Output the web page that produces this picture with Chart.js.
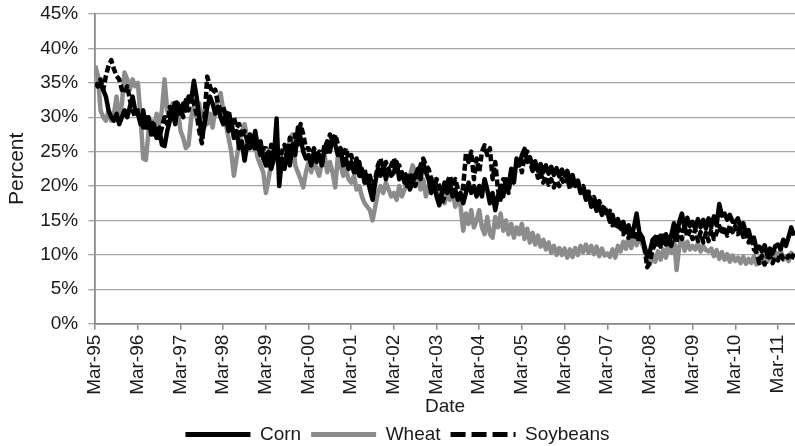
<!DOCTYPE html>
<html>
<head>
<meta charset="utf-8">
<style>
html,body{margin:0;padding:0;background:#fff;}
#wrap{width:795px;height:446px;position:relative;}
</style>
<script src="https://cdn.jsdelivr.net/npm/chart.js@4"></script>
</head>
<body>
<div id="wrap"><canvas id="c"></canvas></div>
<script>
// Tick labels of the date axis (one per year, at March)
const tickLabels = ['Mar-95','Mar-96','Mar-97','Mar-98','Mar-99','Mar-00','Mar-01','Mar-02','Mar-03','Mar-04','Mar-05','Mar-06','Mar-07','Mar-08','Mar-09','Mar-10','Mar-11'];
// Readings taken ~16 times per year starting Mar-95
const readingsPerYear = 16;
const xMaxYears = 16.4;
const yTickValues = [0,5,10,15,20,25,30,35,40,45];

const corn = [
 35,34.5,35,34,33,31,30,29.5,30.5,29,30,31,30,31.5,33,31,
 30.5,29,31,28.5,30,27.5,29,27,28.5,26,25.8,28,29.5,31,29,32,
 30.5,32,31,33,32.5,35.3,33,30,27,29,31.5,33,32,30.5,31.5,30,
 29,30.5,28,29.5,27,28,25.5,26.5,23.7,26,27.5,26,28,25.5,26.5,24,
 23,25,22.5,24,29.8,20,24,22.5,25.5,23,26,24.5,28.5,27,25,24,
 24.5,23,25,23.5,24.5,23,25.5,26.5,25,27,26,24.5,25.5,23,24,22.5,
 23.5,22,24,21.5,22.5,20.5,21.5,19.5,18,20.5,22.5,21.5,23,21,22.5,21.5,
 22,23.5,21,22,20.5,21.5,19.5,20.5,21.5,22.5,21,23.5,22,21,19,20.5,
 18.5,17.2,19,20.5,19,20.5,18.5,19.5,18,19,17.5,19,20.5,19,20,18.5,
 20,18.5,21,19.5,17.5,19,16.5,18.5,20,18.5,21,20,22.5,20.5,24,23,
 24.5,25.4,23.5,24.2,22.8,23.6,22.2,23.2,22,23,21.8,22.8,21.6,22.6,21.4,22.4,
 21.5,22.2,20.8,21.6,20,20.8,19,19.6,18,18.8,17,17.8,16.4,17.2,15.8,16.6,
 16.2,14.8,15.8,14.3,15.2,13.8,14.8,13.3,14.3,12.8,14,16,13.3,12.6,11.2,9.8,
 10.5,12.2,12.6,11.5,12.8,11.8,13,11.6,12.8,14.6,12.8,14.8,16,13.8,15.4,14.2,
 14.8,13.8,15.2,14,15.1,13.8,15.3,14.1,15.6,14.3,17.4,15.7,16,15.1,15.8,14.8,
 14.8,15.3,13.8,14.6,13.2,13.6,12,12.5,10.8,11.2,10.5,11.4,10,10.9,10.2,11.3,
 11.5,10.8,12.2,11.3,12.6,14,12.8
];

const wheat = [
 37.5,36,31,30,29.5,31,29.5,30.5,33,29.5,32,36.5,35.5,34,35.5,34.5,
 35,30,24,23.8,28,29.5,28,30.5,29,31,35.5,31,30,32,29.5,31,
 28,27,25.5,26,30,31.5,30,32,29.5,31,29,30.5,28.5,31,32.5,33.5,
 31,29,27,25,21.5,24,26.5,28,29,27,25.5,27,26,24,23,22,
 19,21,23.5,25,24,22.5,24,23,24.5,27,27.5,23,22,21,19.8,22,
 23.5,22,24,22.5,21.5,23.5,24.5,22,23.5,22,19.8,24.5,23,21.5,22.5,21,
 20.5,21.5,19.5,20,18.5,17.5,17,16.5,15,17,19,20,19,20.5,19.5,18.5,
 19,18,20,18.5,19.5,20.5,21.5,23,22,21,19.5,21,18.5,20,19,21,
 20,18,19.5,17.5,19,18,19.5,17,18.5,17,13.5,16,14.5,16.5,14,15,
 16.5,14,13,15.5,13,12.5,15.5,14,16,13.5,15,13,14.5,12.5,14,13,
 14.5,12.3,13.8,11.8,13.2,11.5,12.8,11.2,12.2,10.8,11.8,10.3,11.3,10,11,10,
 10.9,9.6,10.8,9.7,11,10,11.3,10.4,11.5,10.3,11.3,10.1,11.2,9.8,10.9,9.9,
 10.2,9.7,10.8,9.6,11.3,10.5,11.9,10.9,12.6,11,12.8,11.4,13,11.6,10.8,9.6,
 8.6,10,9,10.5,9.3,10.8,9.6,11.8,10.3,12.7,7.8,11.3,12.2,10.6,11.9,10.8,
 11.3,10.8,11.7,10.5,11.3,10.7,10.5,10.9,9.8,10.7,9.4,10.4,9.3,10.1,9,9.9,
 9.1,9.6,8.8,9.7,8.7,9.4,8.8,9.8,8.6,9.6,8.9,9.9,9,10.1,9.2,10.4,
 9.6,10.7,9.3,9.8,9.1,10.3,9.6
];

const soybeans = [
 35,34.5,35.5,34,36,37.5,38.3,37,36,35.5,34,33.5,34.5,32.5,31,30,
 31,30,28.5,30,28,29.5,27.5,28,27,28.5,30,29,31.5,30,32.5,31,
 31.5,30,32.5,31,33,32,30.5,28,26.2,30,35.9,34.5,33.5,34,32,31,
 31.5,30,31,29,30,28.5,29,27,28,26.5,25.5,27,25,26,24.5,25.5,
 25.5,23,26,24.5,26,23.5,25,26,23.5,27,25,27.5,26,29,27.5,25.5,
 25.5,24,25.5,24.5,25,24,26,25,27.5,26.5,27.5,26,25,24.5,25.5,24,
 24.5,23,22,23.5,21,22.5,20.5,21.5,20,21,23,24,22,23.5,22,23,
 24,22.5,23,21.5,22,20,21,22,20,21.5,23,24,23,22.5,21,19.5,
 21,20,17.5,18.5,20.5,21.5,20,21,19.5,17.8,20,24.7,23.5,25,21,24,
 22,25,25.9,24.5,25.5,21,23.5,19.5,18,21,20.5,19,22,21.5,23,24,
 22,24.5,25,23.6,22.2,23,21.2,22,20.5,21.4,20.2,21,19.8,20.8,20,21,
 20.2,21.2,19.6,20.4,19.8,20.6,19.2,20,18.6,19.2,17.8,18.4,17.2,17.8,16.6,17.2,
 15.5,16.4,14.3,15.3,13.7,14.8,13,14.2,12.5,13.6,12.2,13.4,11.8,13,10.8,8.2,
 9,10.8,11.6,12.6,11.2,12.8,11.5,12.6,11.3,12.8,11.8,13.8,12.3,14.2,12.6,13.5,
 12.3,13.7,12,13.3,11.8,13.2,12,13.7,12.3,13.2,14.2,13,14.1,12.8,14.3,13.3,
 14.2,13,13.9,12.6,13.2,11.8,12.7,10.8,10.3,8.8,9.9,8.6,9.5,9.8,8.8,9.7,
 9.2,10.2,9.4,9.2,9.9,9.3,10.2
];

const toPoints = arr => arr.map((v, i) => ({x: i / readingsPerYear, y: v}));

const FONT = "'Liberation Sans', Arial, sans-serif";
const gridGray = '#a6a6a6';
const axisGray = '#8a8a8a';
const textCol = '#1a1a1a';

const lineDashes = {Soybeans: [15, 6]};
const noScalePadding = (scale) => { scale.paddingLeft = 0; scale.paddingRight = 0; scale.paddingTop = 0; scale.paddingBottom = 0; };

new Chart(document.getElementById('c'), {
  type: 'line',
  data: {
    datasets: [
      {label: 'Corn', data: toPoints(corn), borderColor: '#000', backgroundColor: '#000', borderWidth: 4.5, order: 0},
      {label: 'Wheat', data: toPoints(wheat), borderColor: '#8c8c8c', backgroundColor: '#8c8c8c', borderWidth: 4.5, order: 2},
      {label: 'Soybeans', data: toPoints(soybeans), borderColor: '#000', backgroundColor: '#000', borderWidth: 4.5, borderDash: [7, 3], order: 1}
    ]
  },
  options: {
    responsive: true,
    maintainAspectRatio: false,
    animation: false,
    devicePixelRatio: 1,
    layout: {padding: {left: 0, right: 0, top: 14, bottom: -8}},
    elements: {
      point: {radius: 0, hoverRadius: 0},
      line: {tension: 0, borderJoinStyle: 'round', borderCapStyle: 'butt'}
    },
    plugins: {
      tooltip: {enabled: false},
      legend: {
        position: 'bottom',
        labels: {
          usePointStyle: true,
          pointStyle: 'line',
          pointStyleWidth: 65,
          boxHeight: 10,
          padding: 10,
          color: textCol,
          font: {family: FONT, size: 19},
          sort: (a, b) => a.datasetIndex - b.datasetIndex,
          generateLabels: (chart) => Chart.defaults.plugins.legend.labels.generateLabels(chart).map(l => {
            l.lineWidth = 5;
            l.pointStyle = 'line';
            l.lineDash = lineDashes[l.text] || [];
            return l;
          })
        }
      }
    },
    scales: {
      x: {
        type: 'linear',
        min: 0,
        max: xMaxYears,
        afterFit: noScalePadding,
        border: {display: true, color: axisGray, width: 1.8},
        grid: {drawOnChartArea: false, drawTicks: true, tickLength: 6, color: axisGray, lineWidth: 1.5},
        ticks: {
          stepSize: 1,
          includeBounds: false,
          autoSkip: false,
          maxRotation: 90,
          minRotation: 90,
          padding: 5,
          color: textCol,
          font: {family: FONT, size: 19},
          callback: (v) => (Number.isInteger(v) && tickLabels[v] !== undefined) ? tickLabels[v] : ''
        },
        title: {display: true, text: 'Date', color: textCol, font: {family: FONT, size: 19, lineHeight: 0.85}, padding: {top: -1, bottom: 0}}
      },
      y: {
        min: 0,
        max: 45,
        afterFit: noScalePadding,
        border: {display: true, color: axisGray, width: 1.8},
        grid: {color: gridGray, lineWidth: 1.3, drawTicks: true, tickLength: 7},
        afterBuildTicks: (scale) => { scale.ticks = yTickValues.map(v => ({value: v})); },
        ticks: {
          padding: 10,
          color: textCol,
          font: {family: FONT, size: 19},
          callback: (v) => v + '%'
        },
        title: {display: true, text: 'Percent', color: textCol, font: {family: FONT, size: 21}, padding: {top: 5, bottom: 0}}
      }
    }
  }
});
</script>
</body>
</html>
